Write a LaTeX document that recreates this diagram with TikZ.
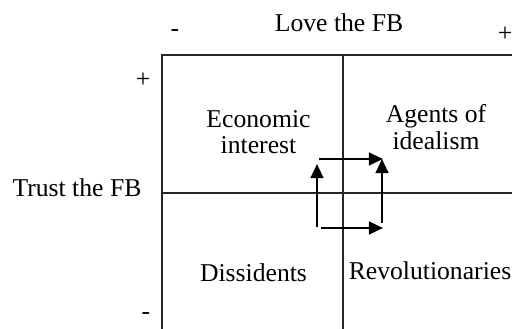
\documentclass[tikz,border=0pt]{standalone}
\usepackage{fontspec}
\setmainfont{Liberation Serif}
\usetikzlibrary{positioning, arrows.meta}

\begin{document}
\begin{tikzpicture}[
    >={Triangle[length=8pt, width=7.2pt]},
    txt/.style={font=\fontsize{14.6}{15}\selectfont, inner sep=0pt, align=center},
    sign/.style={txt},
    axis/.style={line width=1.4pt, black!85},
    move/.style={->, line width=1.4pt},
]
\useasboundingbox (0,0) rectangle (10.24,6.58);

% ---- Frame ----
\coordinate (tl) at (3.24, 5.48);
\coordinate (tr) at (10.24, 5.48);
\coordinate (bl) at (3.24, 0);
\coordinate (mt) at (6.86, 5.48);
\coordinate (mb) at (6.86, 0);
\coordinate (ml) at (3.24, 2.72);
\coordinate (mr) at (10.24, 2.72);

\draw[axis] (bl) -- (tl) -- (tr);
\draw[axis] (mt) -- (mb);
\draw[axis] (ml) -- (mr);

% ---- Axis labels ----
\node[txt, anchor=base] (love) at (6.78, 5.94) {Love the FB};
\node[txt, anchor=base] (trust) at (1.54, 2.64) {Trust the FB};
\node[sign] (lminus) at (3.50, 5.92) {-};
\node[sign] (lplus) at (10.10, 5.90) {+};
\node[sign] (tplus) at (2.86, 4.98) {+};
\node[sign] (tminus) at (2.92, 0.26) {-};

% ---- Quadrants ----
\node[txt] (econ) at (5.17, 3.94) {Economic\\interest};
\node[txt] (agents) at (8.72, 4.04) {Agents of\\idealism};
\node[txt, anchor=base] (diss) at (5.07, 0.94) {Dissidents};
\node[txt, anchor=base] (revo) at (8.60, 0.98) {Revolutionaries};

% ---- Moves ----
\coordinate (a1s) at (6.34, 2.04);
\coordinate (a1e) at (6.34, 3.30);
\coordinate (a2s) at (6.38, 3.40);
\coordinate (a2e) at (7.66, 3.40);
\coordinate (a3s) at (7.64, 2.12);
\coordinate (a3e) at (7.64, 3.40);
\coordinate (a4s) at (6.42, 2.02);
\coordinate (a4e) at (7.66, 2.02);

\draw[move] (a1s) -- (a1e);
\draw[move] (a2s) -- (a2e);
\draw[move] (a3s) -- (a3e);
\draw[move] (a4s) -- (a4e);

\end{tikzpicture}
\end{document}
